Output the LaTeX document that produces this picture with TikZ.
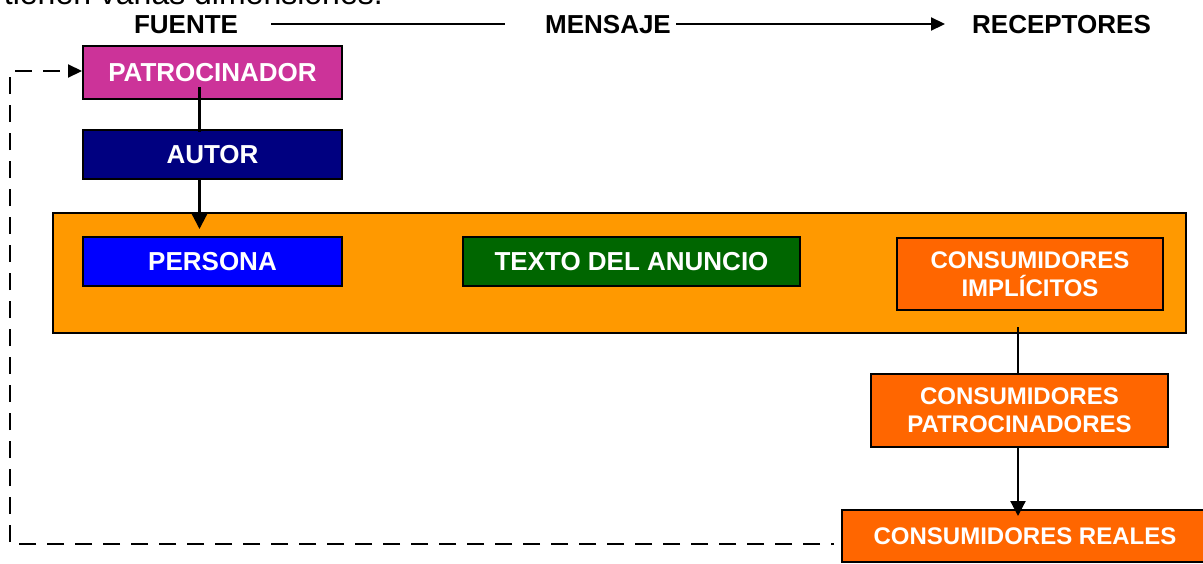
\documentclass[tikz,border=0pt]{standalone}
\usepackage{fontspec}
\setmainfont{Liberation Sans}
\usetikzlibrary{arrows.meta,calc}
\definecolor{magentaP}{HTML}{CC3399}
\definecolor{navyA}{HTML}{000080}
\definecolor{blueP}{HTML}{0000FF}
\definecolor{greenT}{HTML}{006600}
\definecolor{orangeBig}{HTML}{FF9900}
\definecolor{orangeC}{HTML}{FF6600}
\begin{document}
\begin{tikzpicture}[x=1pt,y=-1pt,
 box/.style={draw=black, line width=2pt, inner sep=0pt, text=white, font=\bfseries\fontsize{26}{30}\selectfont, align=center},
 cbox/.style={box, fill=orangeC, font=\bfseries\fontsize{24}{28}\selectfont},
 head/.style={font=\bfseries\fontsize{26}{30}\selectfont, inner sep=0pt},
 conn/.style={line width=2.2pt},
 tipbig/.style={-{Triangle[length=15pt,width=15pt]}},
 tipsmall/.style={-{Triangle[length=14pt,width=13pt]}},
 fb/.style={line width=2.2pt, dash pattern=on 17pt off 11pt, dash phase=14pt}]
\useasboundingbox (0,0) rectangle (1203,563);
\clip (0,0) rectangle (1203,563);

% cut-off line of text at the top
\node[anchor=base east, font=\fontsize{32}{36}\selectfont, inner sep=0pt] (intro) at (383,4) {tienen varias dimensiones.};

% header labels
\node[head, anchor=base] (fuente) at (186,33) {FUENTE};
\node[head, anchor=base] (mensaje) at (608,33) {MENSAJE};
\node[head, anchor=base] (receptores) at (1061.5,33) {RECEPTORES};
\coordinate (l1a) at (271,24);
\coordinate (l1b) at (505,24);
\coordinate (l2b) at (945,24);
\draw[conn] (l1a) -- (l1b);
\draw[conn, tipsmall] ($(mensaje.east |- l2b)+(5,0)$) -- (l2b);

% big orange box
\node[box, fill=orangeBig, minimum width=1133pt, minimum height=120pt] (big) at (619.5,273) {};

% boxes
\node[box, fill=magentaP, minimum width=259pt, minimum height=53pt] (patro) at (212.5,72.5) {PATROCINADOR};
\node[box, fill=navyA, minimum width=259pt, minimum height=49pt] (autor) at (212.5,154.5) {AUTOR};
\node[box, fill=blueP, minimum width=259pt, minimum height=49pt] (persona) at (212.5,261.5) {PERSONA};
\node[box, fill=greenT, minimum width=337pt, minimum height=49pt] (texto) at (631.5,261.5) {TEXTO DEL ANUNCIO};
\node[cbox, minimum width=266pt, minimum height=72pt] (impl) at (1030,274) {CONSUMIDORES\\IMPLÍCITOS};
\node[cbox, minimum width=297pt, minimum height=73pt] (cpatro) at (1019.5,410.5) {CONSUMIDORES\\PATROCINADORES};
\node[cbox, minimum width=366pt, minimum height=52pt] (reales) at (1025,536) {CONSUMIDORES REALES};

% connectors
\coordinate (lx) at (199.5,0);
\coordinate (cx) at (1018,0);
\draw[conn] ($(patro.south -| lx)+(0,-13)$) -- ($(autor.north -| lx)+(0,3)$);
\draw[conn, tipbig] (autor.south -| lx) -- ($(persona.north -| lx)+(0,-7)$);
\draw[conn] ($(impl.south -| cx)+(0,16)$) -- (cpatro.north -| cx);
\draw[conn, tipbig] (cpatro.south -| cx) -- ($(reales.north -| cx)+(0,7)$);

% feedback dashed loop
\coordinate (fbL) at (10,544);
\coordinate (fbT) at (10,71);
\draw[fb, tipsmall] ($(reales.west |- fbL)+(-7,0)$) -- (fbL) -- (fbT) -- (patro.west |- fbT);
\end{tikzpicture}
\end{document}
